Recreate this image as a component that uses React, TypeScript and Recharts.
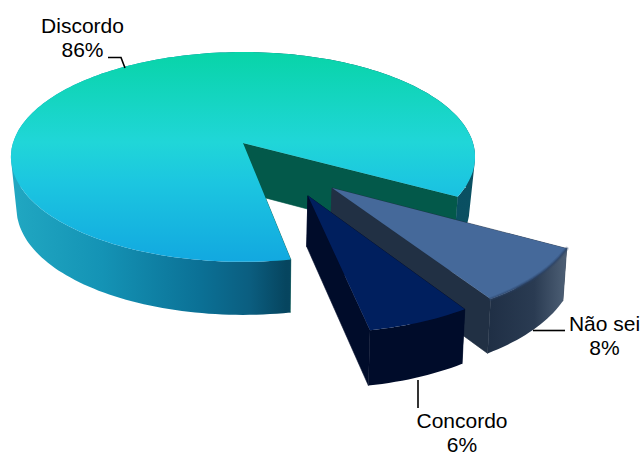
import { PieChart, Pie } from "recharts";

const names = ["Discordo", "Não sei", "Concordo"];
const shares = [86, 8, 6];
const data = names.map((name, i) => ({ name, value: shares[i] }));

// how far each slice is pulled out of the disc, in disc radii
const pullX = [0, 0.366, 0.264];
const pullZ = [0, 0.413, 0.48];

const topFills = ["url(#top-0)", "#45699a", "#001f5e"];
const wallFills = ["#03594a", "#213044", "#000c2a"];

const labelSpots = [
  { x: 82.5, y: 33, leader: "M108 57.5H121L125 68" },
  { x: 604.5, y: 331, leader: "M533 330.5H565" },
  { x: 462, y: 428, leader: "M418 380V408" },
];

const TILT = 0.448;
const PERSPECTIVE = 0.133;
const THICKNESS = 49;

function Slice(props: any) {
  const { cx, cy, outerRadius, startAngle, endAngle, index } = props;

  const project = (X: number, Z: number) => {
    const s = 1 / (1 - PERSPECTIVE * Z);
    return [cx + outerRadius * X * s, cy + outerRadius * TILT * Z * s];
  };
  // the underside sits a little narrower, less so nearer the viewer
  const drop = ([x, y]: number[]) => {
    const near = Math.min(1, Math.max(0, (y - cy) / 100));
    return [cx + (x - cx) * (0.974 + 0.014 * near), cy + THICKNESS + (y - cy) * 1.034];
  };
  const toPath = (pts: number[][]) =>
    "M" + pts.map((p) => `${p[0].toFixed(1)} ${p[1].toFixed(1)}`).join("L") + "Z";

  const ox = pullX[index];
  const oz = pullZ[index];
  const steps = Math.ceil(Math.abs(endAngle - startAngle) / 1.5);
  const arc: number[][] = [];
  for (let i = 0; i <= steps; i++) {
    const a = ((startAngle + ((endAngle - startAngle) * i) / steps) * Math.PI) / 180;
    arc.push(project(ox + Math.cos(a), oz - Math.sin(a)));
  }
  const apex = project(ox, oz);
  const first = arc[0];
  const last = arc[arc.length - 1];

  // rim as same-facing quads in one path, so nonzero fill never cancels at the silhouette
  let rim = "";
  for (let i = 0; i < arc.length - 1; i++) {
    const quad = [arc[i], arc[i + 1], drop(arc[i + 1]), drop(arc[i])];
    let area = 0;
    quad.forEach((p, j) => {
      const q = quad[(j + 1) % 4];
      area += p[0] * q[1] - q[0] * p[1];
    });
    rim += toPath(area < 0 ? quad.reverse() : quad);
  }
  const wallFill = wallFills[index];
  const arcLine = "M" + arc.map((p) => `${p[0].toFixed(1)} ${p[1].toFixed(1)}`).join("L");

  return (
    <g>
      <defs>
        <linearGradient id="top-0" gradientUnits="userSpaceOnUse" x1="0" y1="52" x2="0" y2="262">
          <stop offset="0" stopColor="#08d4a8" />
          <stop offset="0.43" stopColor="#20d6d8" />
          <stop offset="0.62" stopColor="#1cc6e0" />
          <stop offset="1" stopColor="#12a8e0" />
        </linearGradient>
        <linearGradient id="rim-0" gradientUnits="userSpaceOnUse" x1="10" y1="0" x2="470" y2="0">
          <stop offset="0" stopColor="#21a8c2" />
          <stop offset="0.2" stopColor="#1493b5" />
          <stop offset="0.41" stopColor="#0b7196" />
          <stop offset="0.52" stopColor="#0b5e80" />
          <stop offset="0.6" stopColor="#06455f" />
          <stop offset="1" stopColor="#0a5062" />
        </linearGradient>
        <linearGradient id="rim-1" gradientUnits="userSpaceOnUse" x1="488" y1="0" x2="565" y2="0">
          <stop offset="0" stopColor="#1f2f45" />
          <stop offset="0.6" stopColor="#2a3b52" />
          <stop offset="1" stopColor="#4c5e74" />
        </linearGradient>
      </defs>
      <path d={toPath([apex, first, drop(first), drop(apex)])} fill={wallFill} stroke={wallFill} strokeWidth={0.6} />
      <path d={toPath([apex, last, drop(last), drop(apex)])} fill={wallFill} stroke={wallFill} strokeWidth={0.6} />
      <path d={rim} fill={index === 2 ? wallFill : `url(#rim-${index})`} />
      <path d={toPath([apex, ...arc])} fill={topFills[index]} />
      {index === 1 && (
        <g fill="none" stroke="#2c4468" strokeLinecap="round">
          <path d={arcLine} strokeWidth={4} opacity={0.25} />
          <path d={arcLine} strokeWidth={2} opacity={0.5} />
        </g>
      )}
    </g>
  );
}

function SliceLabel(props: any) {
  const spot = labelSpots[props.index];
  return (
    <g>
      <path d={spot.leader} fill="none" stroke="#000" strokeWidth={1.6} />
      <text x={spot.x} y={spot.y} textAnchor="middle" fontFamily="Liberation Sans" fontSize={21} fill="#000">
        {names[props.index]}
      </text>
      <text x={spot.x} y={spot.y + 24} textAnchor="middle" fontFamily="Liberation Sans" fontSize={21} fill="#000">
        {shares[props.index]}%
      </text>
    </g>
  );
}

export default function App() {
  return (
    <div style={{ position: "absolute", left: 0, top: 0, width: 644, height: 455 }}>
      <PieChart width={644} height={455} margin={{ top: 0, right: 0, bottom: 0, left: 0 }}>
        <Pie
          data={data}
          dataKey="value"
          nameKey="name"
          cx={243}
          cy={143}
          innerRadius={0}
          outerRadius={230}
          startAngle={-79.6}
          endAngle={-439.6}
          paddingAngle={0}
          stroke="none"
          shape={Slice}
          label={SliceLabel}
          labelLine={false}
          isAnimationActive={false}
        />
      </PieChart>
    </div>
  );
}
